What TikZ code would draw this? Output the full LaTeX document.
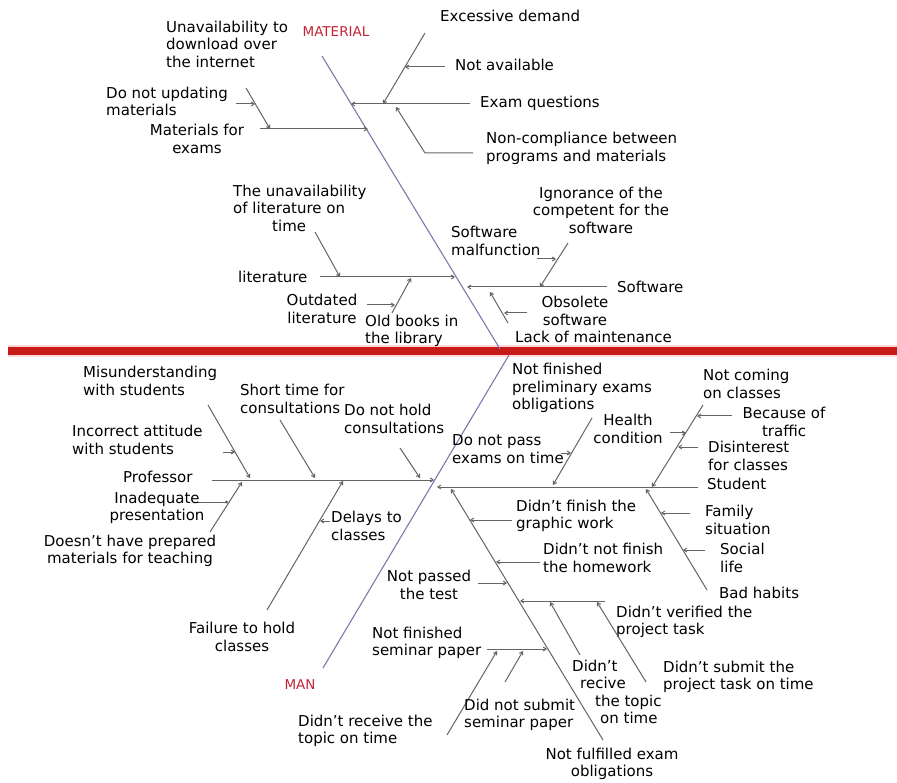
\documentclass[tikz,border=0pt]{standalone}
\usepackage{fontspec}
\setmainfont{DejaVu Sans}
\usetikzlibrary{arrows.meta}
\definecolor{bonec}{RGB}{100,100,100}
\definecolor{spinec}{RGB}{125,120,175}
\definecolor{redband}{RGB}{200,25,25}
\definecolor{redlbl}{RGB}{195,35,55}
\newcommand{\ap}{\char"0027\relax}
\begin{document}
\begin{tikzpicture}[x=1pt,y=-1pt,
  lbl/.style={font=\fontsize{15}{17.5}\selectfont, inner sep=0pt, text=black},
  lblL/.style={lbl, anchor=west, align=left},
  lblC/.style={lbl, anchor=center, align=center},
  cat/.style={font=\fontsize{13.5}{15}\selectfont, text=redlbl, inner sep=0pt},
  bone/.style={draw=bonec, line width=1pt},
  arr/.style={bone, -{Straight Barb[length=3pt,width=4pt]}},
  spinel/.style={draw=spinec, line width=1.1pt},
]
\useasboundingbox (0,0) rectangle (897,783);
\fill[white] (0,0) rectangle (897,783);

% ---------- red band ----------
\coordinate (rbL) at (8,351);
\coordinate (rbR) at (897,351);
\draw[red!15, line width=12pt] (rbL) -- (rbR);
\draw[redband, line width=8pt] (rbL) -- (rbR);

% ---------- top half: MATERIAL ----------
\coordinate (mt1) at (322,56);
\coordinate (mt2) at (500,349);
\draw[spinel] (mt1) -- (mt2);
\node[cat] (material) at (336,32) {MATERIAL};

% Exam questions branch
\coordinate (eq1) at (470,104); \coordinate (eq2) at (351,104);
\draw[arr] (eq1) -- (eq2);
\node[lblL] (teq) at (480,103) {Exam questions};
\coordinate (ed1) at (425,33); \coordinate (ed2) at (383,104);
\draw[arr] (ed1) -- (ed2);
\node[lblL] (ted) at (440,16) {Excessive demand};
\coordinate (na1) at (445,67); \coordinate (na2) at (405,67);
\draw[arr] (na1) -- (na2);
\node[lblL] (tna) at (455,65) {Not available};
\coordinate (nc1) at (473,153); \coordinate (nc2) at (425,153); \coordinate (nc3) at (396,107);
\draw[arr] (nc1) -- (nc2) -- (nc3);
\node[lblL] (tnc) at (486,148.5) {Non-compliance between\\programs and materials};

% Materials for exams branch
\coordinate (me1) at (260,129); \coordinate (me2) at (368,129);
\draw[arr] (me1) -- (me2);
\node[lblC] (tme) at (197,139) {Materials for\\exams};
\coordinate (du1) at (246,88); \coordinate (du2) at (270,129);
\draw[arr] (du1) -- (du2);
\coordinate (dh1) at (236,104); \coordinate (dh2) at (255,104);
\draw[arr] (dh1) -- (dh2);
\node[lblL] (tdu) at (106,101.5) {Do not updating\\materials};
\node[lblL] (tun) at (166,44) {Unavailability to\\download over\\the internet};

% literature branch
\coordinate (li1) at (320,277); \coordinate (li2) at (455,277);
\draw[arr] (li1) -- (li2);
\node[lblL] (tli) at (238,277) {literature};
\coordinate (ul1) at (315,232); \coordinate (ul2) at (340,277);
\draw[arr] (ul1) -- (ul2);
\node[lblL] (tul) at (233,208) {The unavailability\\of literature on\\\hspace*{39pt}time};
\coordinate (ob1) at (392,313); \coordinate (ob2) at (411,278);
\draw[arr] (ob1) -- (ob2);
\node[lblL] (tob) at (365,331) {Old books in\\the library};
\coordinate (ol1) at (367,305); \coordinate (ol2) at (395,305);
\draw[arr] (ol1) -- (ol2);
\node[lblC] (tol) at (322,309) {Outdated\\literature};

% Software branch
\coordinate (sw1) at (607,287); \coordinate (sw2) at (467,287);
\draw[arr] (sw1) -- (sw2);
\node[lblL] (tsw) at (617,287) {Software};
\coordinate (ig1) at (568,243); \coordinate (ig2) at (540,287);
\draw[arr] (ig1) -- (ig2);
\node[lblC] (tig) at (601,210) {Ignorance of the\\competent for the\\software};
\coordinate (sm1) at (537,259); \coordinate (sm2) at (556,259);
\draw[arr] (sm1) -- (sm2);
\node[lblL] (tsm) at (451,241) {Software\\malfunction};
\coordinate (lm1) at (508,323); \coordinate (lm2) at (490,292);
\draw[arr] (lm1) -- (lm2);
\node[lblL] (tlm) at (515,337) {Lack of maintenance};
\coordinate (os1) at (527,313); \coordinate (os2) at (504,313);
\draw[arr] (os1) -- (os2);
\node[lblC] (tos) at (575,311) {Obsolete\\software};

% ---------- bottom half: MAN ----------
\coordinate (mb1) at (323,668);
\coordinate (mb2) at (509,355);
\draw[spinel] (mb1) -- (mb2);
\node[cat] (man) at (300,685) {MAN};
\node[lblL] (tnf) at (512,388) {Not finished\\preliminary exams\\obligations};

% Professor branch
\coordinate (pr1) at (212,480); \coordinate (pr2) at (434,480);
\draw[arr] (pr1) -- (pr2);
\node[lblL] (tpr) at (123,477) {Professor};
\coordinate (mu1) at (208,405); \coordinate (mu2) at (250,478);
\draw[arr] (mu1) -- (mu2);
\node[lblL] (tmu) at (83,381) {Misunderstanding\\with students};
\coordinate (ia1) at (223,452); \coordinate (ia2) at (235,452);
\draw[arr] (ia1) -- (ia2);
\node[lblL] (tia) at (72,440) {Incorrect attitude\\with students};
\coordinate (st1) at (280,420); \coordinate (st2) at (315,478);
\draw[arr] (st1) -- (st2);
\node[lblL] (tst) at (240,399) {Short time for\\consultations};
\coordinate (dn1) at (400,448); \coordinate (dn2) at (420,478);
\draw[arr] (dn1) -- (dn2);
\node[lblL] (tdn) at (344,419) {Do not hold\\consultations};
\coordinate (dp1) at (210,532); \coordinate (dp2) at (242,482);
\draw[arr] (dp1) -- (dp2);
\node[lblC] (tdp) at (130,551) {Doesn\ap t have prepared\\materials for teaching};
\coordinate (ip1) at (195,502); \coordinate (ip2) at (228,502);
\draw[bone, -{Circle[length=3pt]}] (ip1) -- (ip2);
\node[lblC] (tip) at (157,508) {Inadequate\\presentation};
\coordinate (fh1) at (267,610); \coordinate (fh2) at (343,481);
\draw[arr] (fh1) -- (fh2);
\node[lblC] (tfh) at (242,637) {Failure to hold\\classes};
\coordinate (dc1) at (330,521); \coordinate (dc2) at (320,521);
\draw[arr] (dc1) -- (dc2);
\node[lblL] (tdc) at (331,526) {Delays to\\classes};

% Student branch
\coordinate (su1) at (698,487); \coordinate (su2) at (437,487);
\draw[arr] (su1) -- (su2);
\node[lblL] (tsu) at (707,484) {Student};
\coordinate (hc1) at (592,418); \coordinate (hc2) at (553,485);
\draw[arr] (hc1) -- (hc2);
\node[lblL] (tdx) at (452,449) {Do not pass\\exams on time};
\coordinate (dx1) at (561,453); \coordinate (dx2) at (571,453);
\draw[arr] (dx1) -- (dx2);
\node[lblC] (thc) at (628,429) {Health\\condition};
\coordinate (cc1) at (703,405); \coordinate (cc2) at (652,487);
\draw[arr] (cc1) -- (cc2);
\node[lblL] (tcc) at (703,384) {Not coming\\on classes};
\coordinate (bt1) at (732,416); \coordinate (bt2) at (697,416);
\draw[arr] (bt1) -- (bt2);
\node[lblC] (tbt) at (784,422) {Because of\\traffic};
\coordinate (ha1) at (670,433); \coordinate (ha2) at (686,433);
\draw[arr] (ha1) -- (ha2);
\coordinate (di1) at (698,447); \coordinate (di2) at (678,447);
\draw[arr] (di1) -- (di2);
\node[lblL] (tdi) at (708,456) {Disinterest\\for classes};
\coordinate (bh1) at (707,590); \coordinate (bh2) at (646,489);
\draw[arr] (bh1) -- (bh2);
\node[lblL] (tbh) at (719,593) {Bad habits};
\coordinate (fs1) at (690,513); \coordinate (fs2) at (661,513);
\draw[arr] (fs1) -- (fs2);
\node[lblL] (tfs) at (705,520) {Family\\situation};
\coordinate (sl1) at (705,550); \coordinate (sl2) at (683,550);
\draw[arr] (sl1) -- (sl2);
\node[lblL] (tsl) at (720,558) {Social\\life};

% Not fulfilled exam obligations branch
\coordinate (fe1) at (603,740); \coordinate (fe2) at (451,489);
\draw[arr] (fe1) -- (fe2);
\node[lblC] (tfe) at (612,764) {Not fulfilled exam\\obligations};
\coordinate (gw1) at (512,520); \coordinate (gw2) at (470,520);
\draw[arr] (gw1) -- (gw2);
\node[lblL] (tgw) at (516,516) {Didn\ap t finish the\\graphic work};
\coordinate (hw1) at (540,562); \coordinate (hw2) at (496,562);
\draw[arr] (hw1) -- (hw2);
\node[lblL] (thw) at (543,558) {Didn\ap t not finish\\the homework};
\coordinate (pt1) at (478,583); \coordinate (pt2) at (507,583);
\draw[arr] (pt1) -- (pt2);
\node[lblC] (tpt) at (429,585) {Not passed\\the test};
\coordinate (pj1) at (605,601); \coordinate (pj2) at (520,601);
\draw[arr] (pj1) -- (pj2);
\node[lblL] (tpj) at (616,622) {Didn\ap t verified the\\project task};
\coordinate (ps1) at (646,682); \coordinate (ps2) at (597,602);
\draw[arr] (ps1) -- (ps2);
\node[lblL] (tps) at (663,677) {Didn\ap t submit the\\project task on time};
\coordinate (rt1) at (580,655); \coordinate (rt2) at (550,602);
\draw[arr] (rt1) -- (rt2);
\node[lblL] (trt) at (572,692) {Didn\ap t\\\hspace*{8pt}recive\\\hspace*{23pt}the topic\\\hspace*{28pt}on time};
\coordinate (sp1) at (487,649); \coordinate (sp2) at (547,649);
\draw[arr] (sp1) -- (sp2);
\node[lblL] (tsp) at (372,643) {Not finished\\seminar paper};
\coordinate (tr1) at (447,735); \coordinate (tr2) at (497,651);
\draw[arr] (tr1) -- (tr2);
\node[lblL] (ttr) at (298,731) {Didn\ap t receive the\\topic on time};
\coordinate (ns1) at (505,682); \coordinate (ns2) at (523,651);
\draw[arr] (ns1) -- (ns2);
\node[lblL] (tns) at (464,715) {Did not submit\\seminar paper};
\end{tikzpicture}
\end{document}
